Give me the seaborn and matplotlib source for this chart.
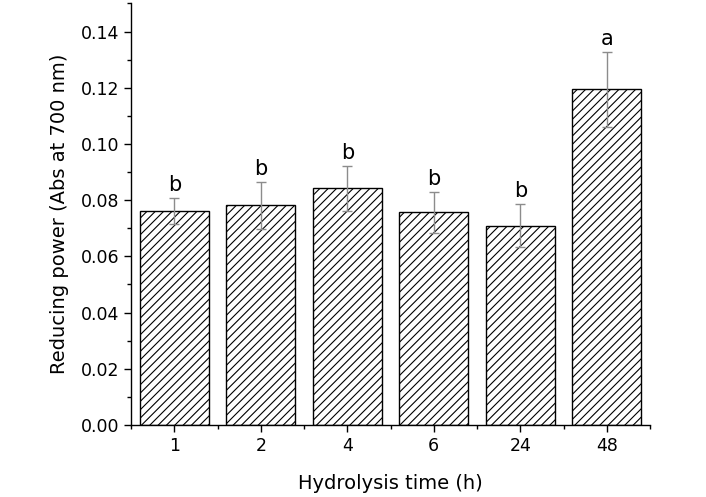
import numpy as np
import pandas as pd
import matplotlib
matplotlib.use("Agg")
import matplotlib.pyplot as plt
from matplotlib.ticker import MultipleLocator, FixedLocator, FormatStrFormatter
import seaborn as sns

# data
hours = ["1", "2", "4", "6", "24", "48"]
reducing_power = [0.0762, 0.0782, 0.0843, 0.0757, 0.0709, 0.1195]
errors = [0.0045, 0.0084, 0.0080, 0.0073, 0.0077, 0.0133]
letters = ["b", "b", "b", "b", "b", "a"]

df = pd.DataFrame({"hour": hours, "value": reducing_power})

sns.set_style("ticks")
plt.rcParams["font.family"] = ["DejaVu Sans"]
plt.rcParams["hatch.linewidth"] = 0.8
plt.rcParams["text.color"] = "black"
plt.rcParams["axes.labelcolor"] = "black"
plt.rcParams["xtick.color"] = "black"
plt.rcParams["ytick.color"] = "black"

fig = plt.figure(figsize=(7.06, 4.97), dpi=100)
ax = fig.add_axes([0.1856, 0.1449, 0.7351, 0.8481])

sns.barplot(data=df, x="hour", y="value", color="white", edgecolor="black",
            linewidth=1.0, width=0.8, errorbar=None, ax=ax)
for bar in ax.patches:
    bar.set_hatch("////")
    bar.set_facecolor("white")
    bar.set_edgecolor("black")

pos = np.arange(len(hours))
ax.errorbar(pos, reducing_power, yerr=errors, fmt="none", ecolor="#8c8c8c",
            elinewidth=1.0, capsize=3.5, capthick=1.0, zorder=5)

for p, v, e, t in zip(pos, reducing_power, errors, letters):
    ax.annotate(t, (p, v + e), xytext=(0, 2), textcoords="offset points",
                ha="center", va="bottom", fontsize=15, color="black")

ax.set_xlim(-0.5, 5.5)
ax.set_ylim(0, 0.15)
ax.yaxis.set_major_locator(FixedLocator(np.arange(0, 0.141, 0.02)))
ax.yaxis.set_minor_locator(MultipleLocator(0.01))
ax.xaxis.set_minor_locator(FixedLocator(np.arange(-0.5, 5.6, 1.0)))
ax.yaxis.set_major_formatter(FormatStrFormatter("%.2f"))

ax.tick_params(axis="both", which="major", direction="out", length=5, width=1.0,
               labelsize=12.5, color="black", labelcolor="black")
ax.tick_params(axis="both", which="minor", direction="out", length=3, width=1.0,
               color="black")

sns.despine(ax=ax, top=True, right=True)
for s in ["left", "bottom"]:
    ax.spines[s].set_linewidth(1.0)
    ax.spines[s].set_color("black")

ax.set_xlabel("Hydrolysis time (h)", fontsize=14, labelpad=14, color="black")
ax.set_ylabel("Reducing power (Abs at 700 nm)", fontsize=14, labelpad=8, color="black")

fig.savefig("out.png", dpi=100)
